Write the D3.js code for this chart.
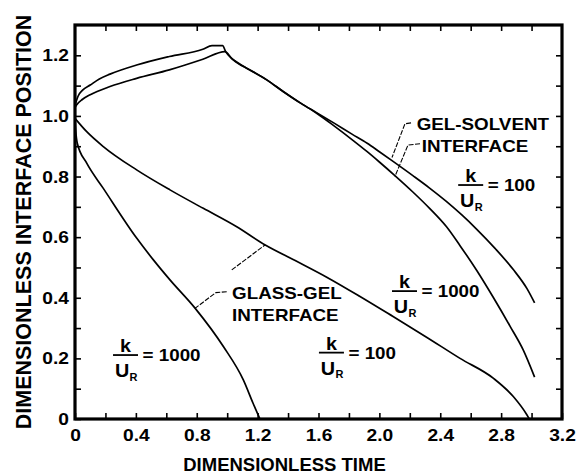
<!DOCTYPE html>
<html>
<head>
<meta charset="utf-8">
<script src="https://cdn.jsdelivr.net/npm/d3@7"></script>
<style>
  html, body { margin: 0; padding: 0; background: #fff; }
  svg { display: block; }
  text { font-family: "Liberation Sans", Arial, Helvetica, sans-serif; font-weight: bold; fill: #000; }
</style>
</head>
<body>
<script>
// ---------- data ----------
// Gel-solvent interface, k/U_R = 1000
const gs1000T = [0, 0.02, 0.05, 0.10, 0.16, 0.23, 0.405, 0.62, 0.84, 0.90, 0.97, 0.99, 1.04, 1.15, 1.26, 1.37, 1.48, 1.59, 1.70, 1.82, 1.92, 2.0, 2.1, 2.22, 2.33, 2.44, 2.53, 2.64, 2.75, 2.86, 2.945, 3.02];
const gs1000V = [1.035, 1.065, 1.085, 1.102, 1.122, 1.138, 1.168, 1.196, 1.22, 1.232, 1.232, 1.212, 1.185, 1.152, 1.119, 1.08, 1.043, 1.008, 0.968, 0.922, 0.882, 0.848, 0.804, 0.749, 0.695, 0.635, 0.572, 0.49, 0.40, 0.305, 0.228, 0.138];
// Gel-solvent interface, k/U_R = 100
const gs100T = [0, 0.01, 0.05, 0.10, 0.23, 0.405, 0.62, 0.84, 0.985, 1.03, 1.12, 1.26, 1.37, 1.48, 1.59, 1.70, 1.82, 1.92, 2.0, 2.09, 2.22, 2.33, 2.44, 2.54, 2.64, 2.76, 2.88, 2.97, 3.02];
const gs100V = [1.028, 1.036, 1.055, 1.07, 1.097, 1.124, 1.152, 1.187, 1.212, 1.19, 1.16, 1.119, 1.08, 1.043, 1.01, 0.977, 0.94, 0.91, 0.882, 0.85, 0.803, 0.762, 0.718, 0.674, 0.626, 0.563, 0.493, 0.43, 0.383];
// Glass-gel interface, k/U_R = 100
const gg100T = [0, 0.077, 0.186, 0.405, 0.624, 0.843, 1.06, 1.25, 1.45, 1.654, 1.87, 2.09, 2.31, 2.53, 2.75, 2.88, 2.97, 2.985];
const gg100V = [0.992, 0.948, 0.899, 0.822, 0.756, 0.695, 0.635, 0.574, 0.522, 0.468, 0.405, 0.338, 0.27, 0.2, 0.134, 0.074, 0.013, 0];
// Glass-gel interface, k/U_R = 1000
const gg1000T = [0, 0.005, 0.015, 0.077, 0.186, 0.405, 0.515, 0.624, 0.79, 0.975, 1.106, 1.17, 1.215];
const gg1000V = [0.99, 0.95, 0.91, 0.844, 0.761, 0.597, 0.525, 0.459, 0.365, 0.239, 0.129, 0.052, 0];

const xTickLabels = ["0", "0.4", "0.8", "1.2", "1.6", "2.0", "2.4", "2.8", "3.2"];
const yTickLabels = ["0", "0.2", "0.4", "0.6", "0.8", "1.0", "1.2"];
const xTitle = "DIMENSIONLESS TIME";
const yTitle = "DIMENSIONLESS INTERFACE POSITION";

// annotation anchors (data coordinates)
const fractionLabels = [
  { t: 2.60, v: 0.772, value: "100" },
  { t: 2.165, v: 0.422, value: "1000" },
  { t: 1.685, v: 0.219, value: "100" },
  { t: 0.332, v: 0.211, value: "1000" }
];
const wordLabels = [
  { t: 2.245, v: 0.954, text: "GEL-SOLVENT" },
  { t: 2.278, v: 0.881, text: "INTERFACE" },
  { t: 1.032, v: 0.396, text: "GLASS-GEL" },
  { t: 1.032, v: 0.324, text: "INTERFACE" }
];
const leaders = [
  [[2.208, 0.977], [2.168, 0.974], [2.083, 0.863]],
  [[2.267, 0.908], [2.188, 0.904], [2.102, 0.800]],
  [[0.997, 0.420], [0.926, 0.417], [0.788, 0.365]],
  [[1.030, 0.492], [1.248, 0.574]]
];

// ---------- drawing ----------
const W = 578, H = 475;
const svg = d3.select("body").append("svg").attr("width", W).attr("height", H);
svg.append("rect").attr("width", W).attr("height", H).attr("fill", "#fff");

const x = d3.scaleLinear().domain([0, 3.2]).range([75, 562]);
const y = d3.scaleLinear().domain([0, 1.3]).range([419, 25]);

const xMinor = d3.range(0, 17).map(i => +(i * 0.2).toFixed(1));
const yMinor = d3.range(1, 13).map(i => +(i * 0.1).toFixed(1));
const fmtX = d => { const s = xTickLabels.find(l => Math.abs(+l - d) < 1e-6); return s === undefined ? "" : s; };
const fmtY = d => { const s = yTickLabels.find(l => Math.abs(+l - d) < 1e-6); return s === undefined ? "" : s; };

function styleAxis(g) {
  g.select(".domain").remove();
  g.selectAll(".tick line").attr("stroke", "#000").attr("stroke-width", 1.6);
}
const gB = svg.append("g").attr("transform", `translate(0,${y(0)})`)
  .call(d3.axisBottom(x).tickValues(xMinor).tickSize(-6).tickSizeOuter(0).tickFormat(fmtX)).call(styleAxis);
gB.selectAll(".tick text").attr("y", null).attr("dy", null)
  .attr("font-size", 16).attr("transform", "translate(0,22) scale(1.2,1)");
svg.append("g").attr("transform", `translate(0,${y(1.3)})`)
  .call(d3.axisTop(x).tickValues(xMinor.filter(d => d > 0 && d < 3.2)).tickSize(-6).tickSizeOuter(0).tickFormat("")).call(styleAxis);
const yAll = [0].concat(yMinor);
const gL = svg.append("g").attr("transform", `translate(${x(0)},0)`)
  .call(d3.axisLeft(y).tickValues(yAll).tickSize(-6).tickSizeOuter(0).tickFormat(fmtY)).call(styleAxis);
gL.selectAll(".tick text").attr("x", null).attr("dy", null)
  .attr("font-size", 16).attr("transform", "translate(-6,5.6) scale(1.2,1)");
svg.append("g").attr("transform", `translate(${x(3.2)},0)`)
  .call(d3.axisRight(y).tickValues(yMinor).tickSize(-6).tickSizeOuter(0).tickFormat("")).call(styleAxis);
svg.selectAll(".tick text").attr("font-family", null).attr("fill", "#000");

// frame
svg.append("rect").attr("x", x(0)).attr("y", y(1.3))
  .attr("width", x(3.2) - x(0)).attr("height", y(0) - y(1.3))
  .attr("fill", "none").attr("stroke", "#000").attr("stroke-width", 3.2);

// curves
const line = d3.line().x(d => x(d[0])).y(d => y(d[1])).curve(d3.curveMonotoneX);
const series = [
  [gs1000T, gs1000V], [gs100T, gs100V], [gg100T, gg100V], [gg1000T, gg1000V]
];
series.forEach(([T, V]) => {
  svg.append("path").datum(T.map((t, i) => [t, V[i]]))
    .attr("d", line).attr("fill", "none").attr("stroke", "#000")
    .attr("stroke-width", 1.7).attr("stroke-linejoin", "round");
});

// leader lines
const lead = d3.line().x(d => x(d[0])).y(d => y(d[1]));
leaders.forEach(pts => {
  svg.append("path").attr("d", lead(pts)).attr("fill", "none")
    .attr("stroke", "#000").attr("stroke-width", 1.1).attr("stroke-dasharray", "5,1.5");
});

// word labels
wordLabels.forEach(w => {
  svg.append("text").attr("transform", `translate(${x(w.t)},${y(w.v)}) scale(1.14,1)`)
    .attr("font-size", 16.5).text(w.text);
});

// fraction labels k / U_R = value
fractionLabels.forEach(f => {
  const cx = x(f.t), by = y(f.v);
  const g = svg.append("g");
  g.append("text").attr("transform", `translate(${cx},${by - 3}) scale(1.1,1)`)
    .attr("text-anchor", "middle").attr("font-size", 18).text("k");
  g.append("line").attr("x1", cx - 12.5).attr("x2", cx + 12.5).attr("y1", by).attr("y2", by)
    .attr("stroke", "#000").attr("stroke-width", 1.8);
  g.append("text").attr("transform", `translate(${cx - 3.5},${by + 22}) scale(1.1,1)`)
    .attr("text-anchor", "middle").attr("font-size", 18).text("U");
  g.append("text").attr("transform", `translate(${cx + 4},${by + 25.5})`)
    .attr("font-size", 11).text("R");
  g.append("text").attr("transform", `translate(${cx + 17},${by + 6}) scale(1.14,1)`)
    .attr("font-size", 16.5).text("= " + f.value);
});

// axis titles
svg.append("text").attr("transform", `translate(${(x(0) + x(3.2)) / 2 - 34},471)`)
  .attr("text-anchor", "middle").attr("font-size", 18.5).text(xTitle);
svg.append("text").attr("transform", `translate(31,${(y(0) + y(1.3)) / 2}) rotate(-90)`)
  .attr("text-anchor", "middle").attr("font-size", 21.5).text(yTitle);
</script>
</body>
</html>
